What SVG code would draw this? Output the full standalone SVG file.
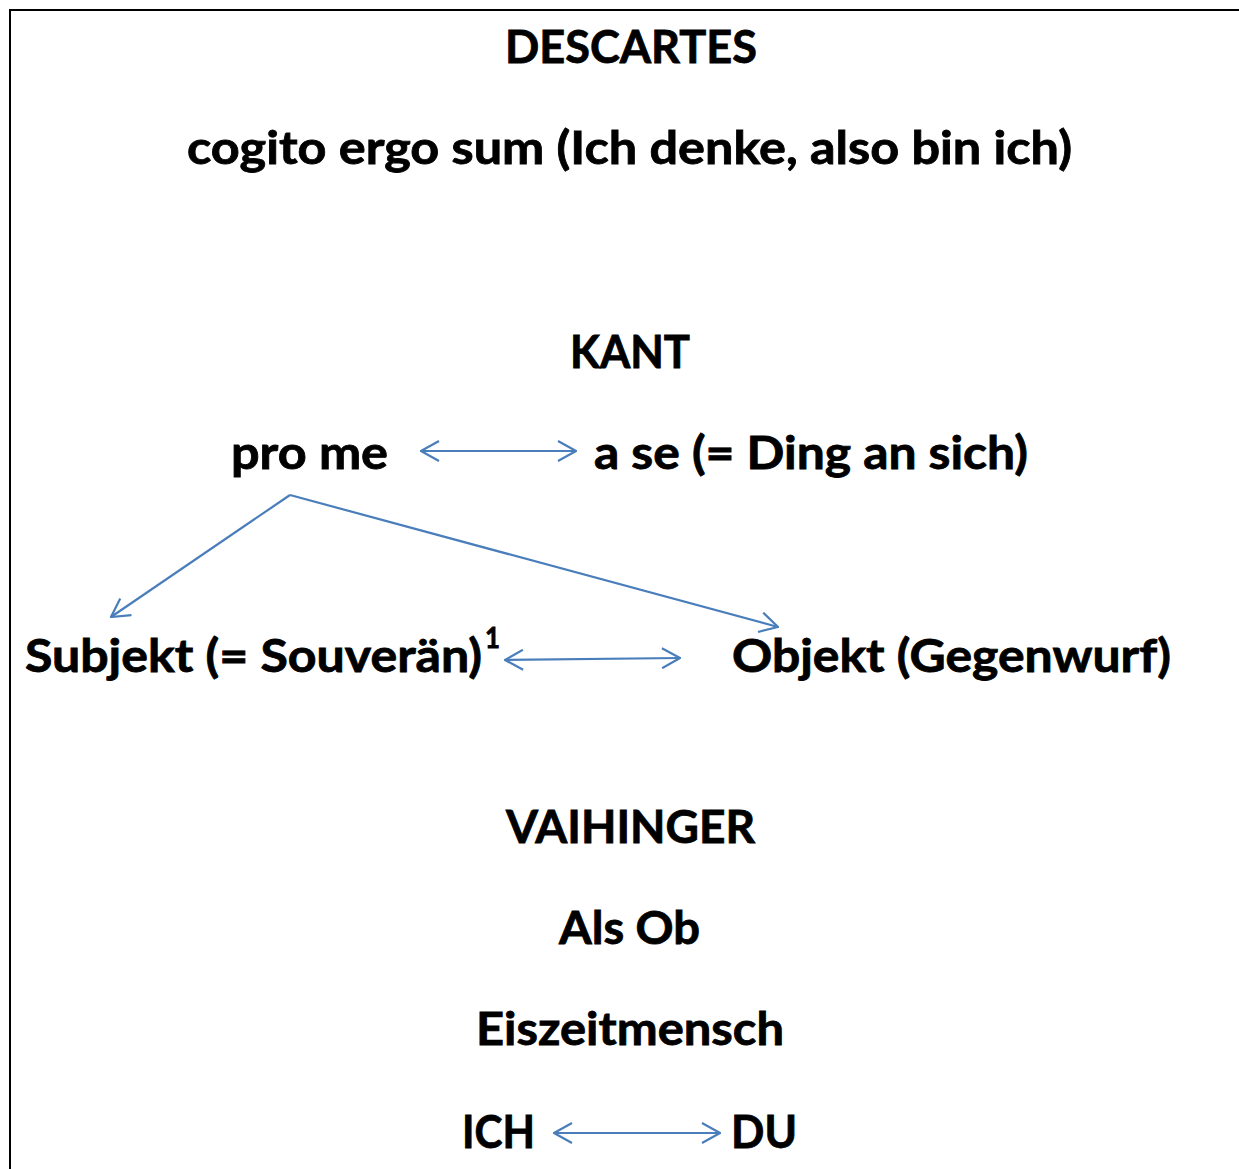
<svg xmlns="http://www.w3.org/2000/svg" width="1239" height="1169" viewBox="0 0 1239 1169">
<style>
.t{font-family:Lato,"Liberation Sans",sans-serif;font-weight:700;font-size:46px;fill:#000;stroke:#000;stroke-width:0.8px}
.s{font-family:Lato,"Liberation Sans",sans-serif;font-weight:700;font-size:29px;fill:#000;stroke:#000;stroke-width:0.8px}
.c{stroke:#4A7EBB;stroke-width:2.2;fill:none}
</style>
<defs>
<marker id="ah" viewBox="0 0 20 22" refX="19" refY="11" markerWidth="20" markerHeight="22" markerUnits="userSpaceOnUse" orient="auto-start-reverse">
<path d="M1,1 L19,11 L1,21" fill="none" stroke="#4A7EBB" stroke-width="2.2"/>
</marker>
</defs>
<rect width="1239" height="1169" fill="#fff"/>
<g id="frame">
<path d="M10,1169 L10,10 L1239,10" fill="none" stroke="#000" stroke-width="2"/>
</g>
<g id="descartes"><text class="t" x="505" y="63" textLength="252" lengthAdjust="spacingAndGlyphs">DESCARTES</text></g>
<g id="cogito"><text class="t" x="187" y="164" textLength="885" lengthAdjust="spacingAndGlyphs">cogito ergo sum (Ich denke, also bin ich)</text></g>
<g id="kant"><text class="t" x="570" y="368" textLength="120" lengthAdjust="spacingAndGlyphs">KANT</text></g>
<g id="prome"><text class="t" x="231" y="469" textLength="157" lengthAdjust="spacingAndGlyphs">pro me</text></g>
<g id="ase"><text class="t" x="594" y="469" textLength="434" lengthAdjust="spacingAndGlyphs">a se (= Ding an sich)</text></g>
<g id="subjekt"><text class="t" x="25" y="672" textLength="457" lengthAdjust="spacingAndGlyphs">Subjekt (= Souverän)</text><text class="s" x="485" y="648" textLength="15" lengthAdjust="spacingAndGlyphs">1</text></g>
<g id="objekt"><text class="t" x="732" y="672" textLength="439" lengthAdjust="spacingAndGlyphs">Objekt (Gegenwurf)</text></g>
<g id="vaihinger"><text class="t" x="506" y="843" textLength="249" lengthAdjust="spacingAndGlyphs">VAIHINGER</text></g>
<g id="alsob"><text class="t" x="559" y="944" textLength="141" lengthAdjust="spacingAndGlyphs">Als Ob</text></g>
<g id="eiszeit"><text class="t" x="476" y="1045" textLength="308" lengthAdjust="spacingAndGlyphs">Eiszeitmensch</text></g>
<g id="ich"><text class="t" x="462" y="1148" textLength="73" lengthAdjust="spacingAndGlyphs">ICH</text></g>
<g id="du"><text class="t" x="731" y="1148" textLength="66" lengthAdjust="spacingAndGlyphs">DU</text></g>
<g id="connectors">
<path class="c" d="M421,451 L576,451" marker-start="url(#ah)" marker-end="url(#ah)"/>
<path class="c" d="M290,495 L111,617" marker-end="url(#ah)"/>
<path class="c" d="M290,495 L778,627" marker-end="url(#ah)"/>
<path class="c" d="M505,660 L680,658" marker-start="url(#ah)" marker-end="url(#ah)"/>
<path class="c" d="M554,1133 L720,1133" marker-start="url(#ah)" marker-end="url(#ah)"/>
</g>
</svg>
